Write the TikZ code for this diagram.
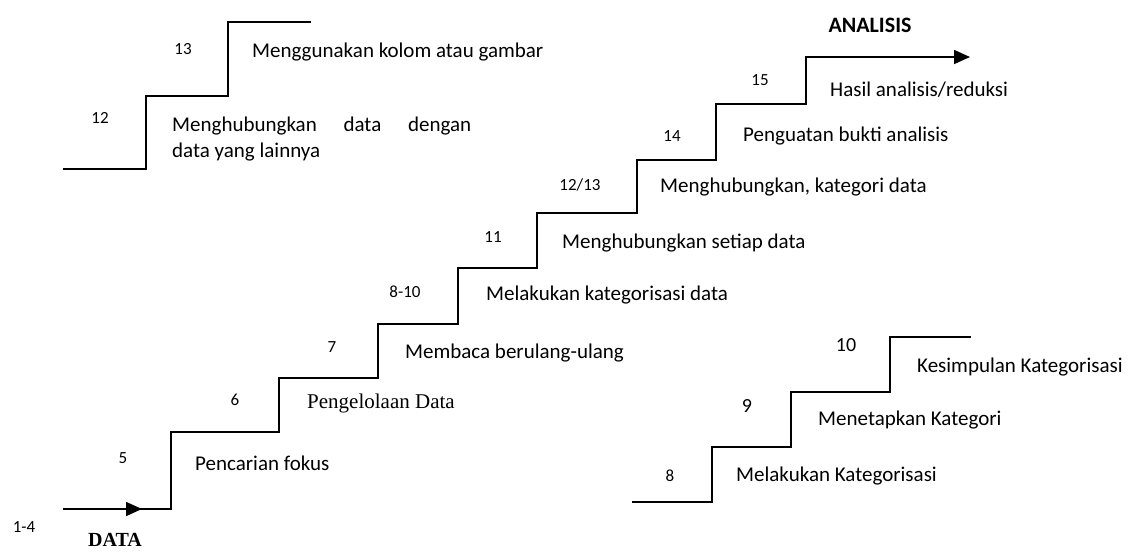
\documentclass[tikz,border=0pt]{standalone}
\usepackage{fontspec}
\setmainfont{Carlito}
\newfontfamily\timesf{Liberation Serif}
\usetikzlibrary{arrows.meta}
\tikzset{
  stair/.style={line width=1.6pt, line join=miter},
  arr/.style={line width=1.6pt, -{Triangle[length=16pt,width=14pt]}},
  lbl/.style={anchor=west, inner sep=0pt, font=\fontsize{21}{25}\selectfont},
  num/.style={inner sep=0pt, font=\fontsize{17}{20}\selectfont},
  bignum/.style={inner sep=0pt, font=\fontsize{20}{24}\selectfont},
}
\begin{document}
\begin{tikzpicture}[x=1pt,y=-1pt]
\useasboundingbox (0,0) rectangle (1131,552);
% main staircase
\coordinate (m0) at (63,509);
\coordinate (mt) at (142,509);
\coordinate (m1) at (171,509);
\coordinate (mend) at (970,57);
\draw[stair] (m0) -- (m1) -- (171,432) -- (279,432) -- (279,378) -- (378,378) -- (378,324)
  -- (458,324) -- (458,268) -- (537,268) -- (537,213) -- (637,213) -- (637,160)
  -- (716,160) -- (716,104) -- (806,104) -- (806,57) -- (950,57);
\draw[arr] (m0) -- (mt);
\draw[arr] (900,57) -- (mend);
% top-left staircase
\coordinate (a0) at (63,169);
\coordinate (a1) at (311,22);
\draw[stair] (a0) -- (146,169) -- (146,96) -- (228,96) -- (228,22) -- (a1);
% lower-right staircase
\coordinate (b0) at (632,502);
\coordinate (b1) at (971,337);
\draw[stair] (b0) -- (712,502) -- (712,447) -- (791,447) -- (791,392) -- (890,392) -- (890,337) -- (b1);
% main labels
\node[num] (n14) at (24,527) {1-4};
\node[inner sep=0pt, font=\timesf\bfseries\fontsize{20}{23}\selectfont] (data) at (115,540) {DATA};
\node[num] (n5) at (123,458) {5};
\node[lbl] (t5) at (195,463) {Pencarian fokus};
\node[num] (n6) at (235,400) {6};
\node[lbl, font=\timesf\fontsize{21}{25}\selectfont] (t6) at (307,403) {Pengelolaan Data};
\node[num] (n7) at (332,347) {7};
\node[lbl] (t7) at (405,353) {Membaca berulang-ulang};
\node[num] (n810) at (405,292) {8-10};
\node[lbl] (t810) at (486,295) {Melakukan kategorisasi data};
\node[num] (n11) at (493,237) {11};
\node[lbl] (t11) at (562,243) {Menghubungkan setiap data};
\node[num] (n1213) at (580,185) {12/13};
\node[lbl] (t1213) at (660,187) {Menghubungkan, kategori data};
\node[num] (n14b) at (672,136) {14};
\node[lbl] (t14) at (743,136) {Penguatan bukti analisis};
\node[num] (n15) at (760,80) {15};
\node[lbl] (t15) at (830,90) {Hasil analisis/reduksi};
\node[inner sep=0pt, font=\bfseries\fontsize{22}{26}\selectfont] (anal) at (870,25) {ANALISIS};
% top-left labels
\node[num] (n13) at (183,49) {13};
\node[lbl] (t13) at (252,52) {Menggunakan kolom atau gambar};
\node[num] (n12) at (100,118) {12};
\node[lbl] (t12a) at (172,126) {\hbox to 299pt{Menghubungkan\hfill data\hfill dengan}};
\node[lbl] (t12b) at (172,152) {data yang lainnya};
% lower-right labels
\node[bignum] (n10) at (846,345) {10};
\node[lbl] (t10) at (917,367) {Kesimpulan Kategorisasi};
\node[bignum] (n9) at (747,406) {9};
\node[lbl] (t9) at (818,420) {Menetapkan Kategori};
\node[num] (n8) at (670,476) {8};
\node[lbl] (t8) at (736,476) {Melakukan Kategorisasi};
\end{tikzpicture}
\end{document}
